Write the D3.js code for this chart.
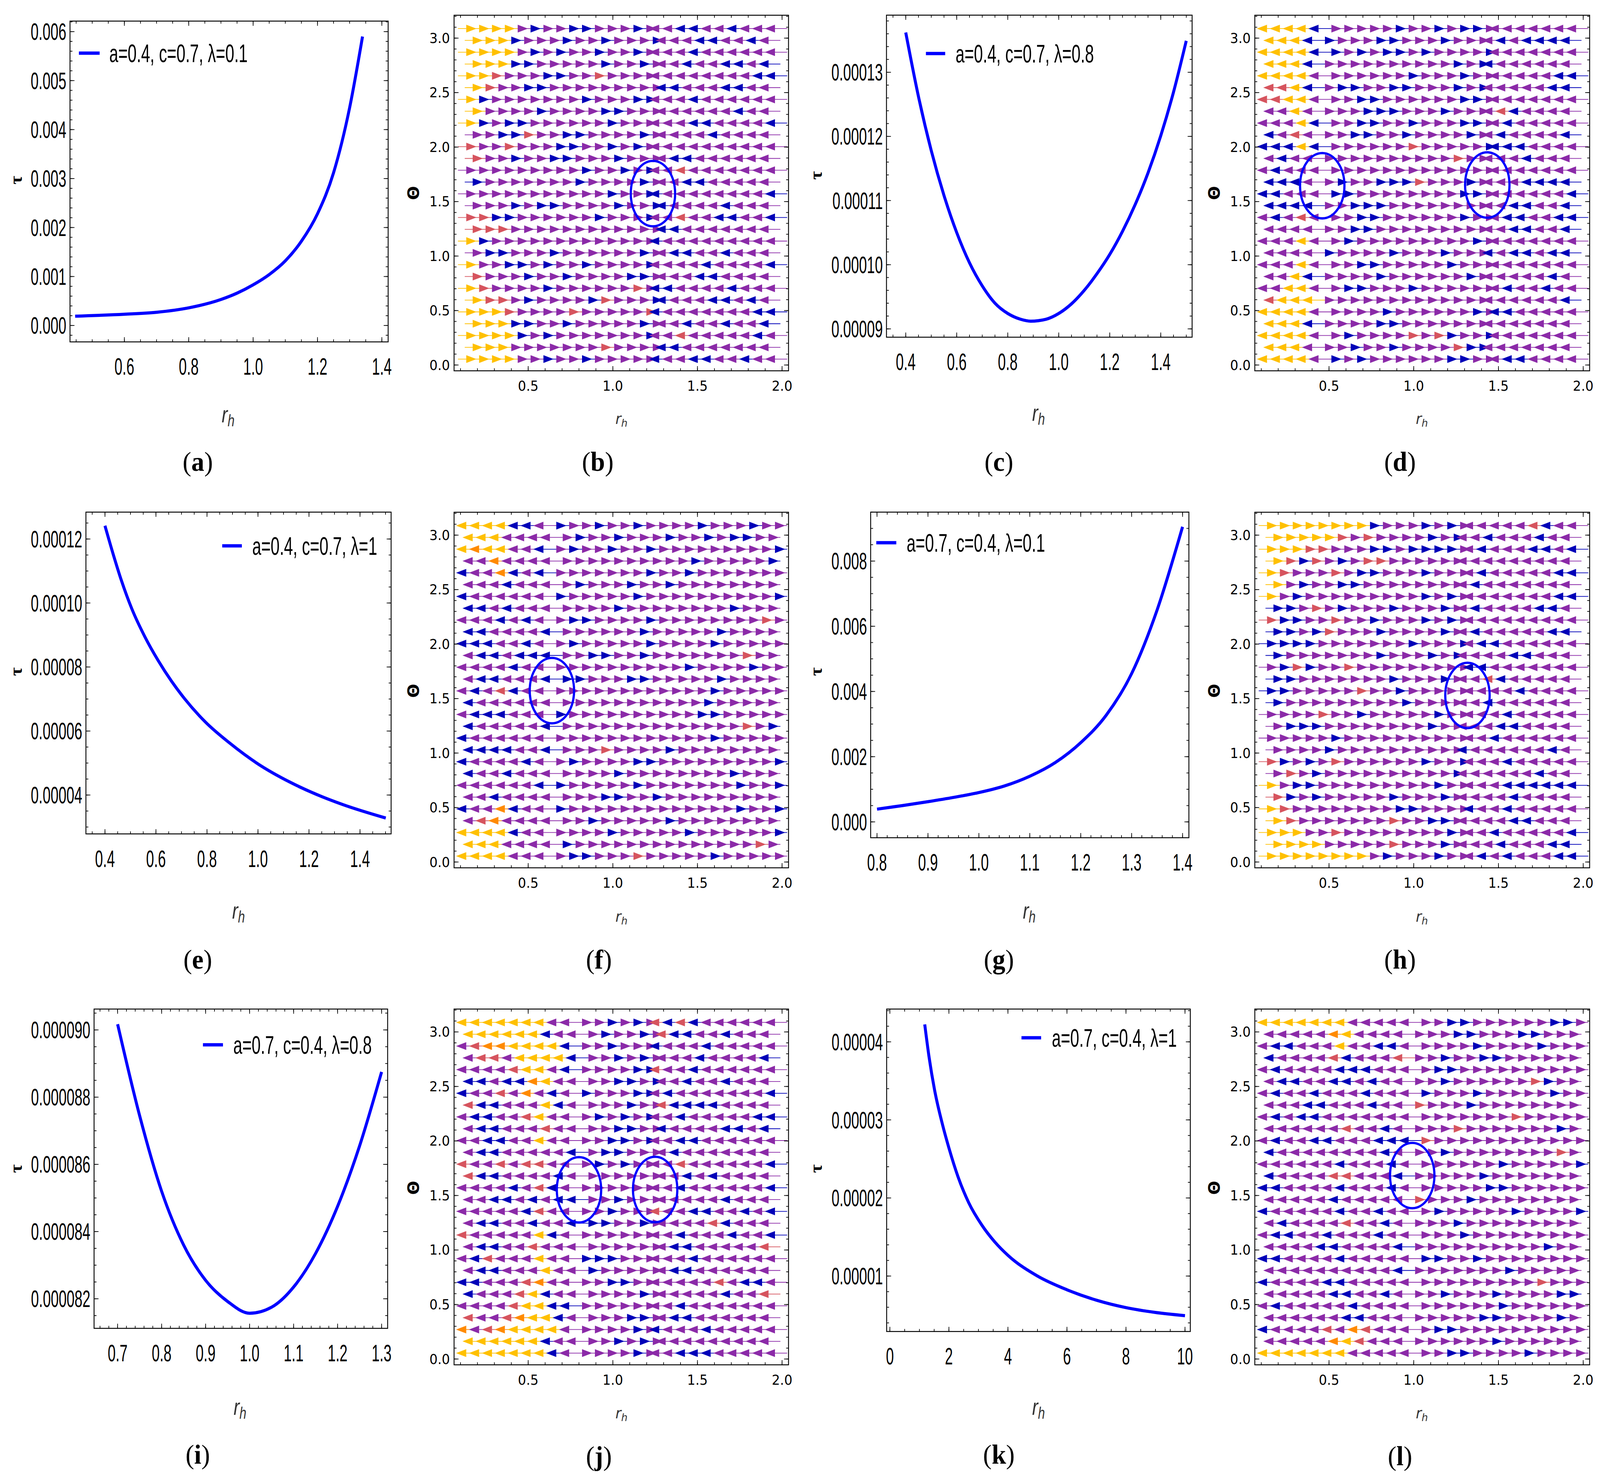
<!DOCTYPE html>
<html><head><meta charset="utf-8">
<script src="https://cdn.jsdelivr.net/npm/d3@7"></script>
<style>html,body{margin:0;padding:0;background:#fff;overflow:hidden}svg{display:block}</style>
</head><body>
<svg id="fig" viewBox="0 0 4320 3775" preserveAspectRatio="none" style="width:100vw;height:100vh"></svg>
<script>
// ===================== DATA =====================
const rA   = [0.447,0.6,0.7,0.8,0.9,0.95,1.0,1.05,1.1,1.15,1.2,1.25,1.3,1.34];
const tauA = [0.00019,0.00023,0.00027,0.00036,0.00053,0.00066,0.00083,0.00104,0.00132,0.00172,0.00228,0.00312,0.00445,0.0059];

const rC   = [0.40,0.45,0.50,0.55,0.60,0.65,0.70,0.75,0.80,0.85,0.89,0.95,1.00,1.05,1.10,1.15,1.20,1.25,1.30,1.35,1.40,1.45,1.50];
const tauC = [1.362e-4,1.262e-4,1.178e-4,1.108e-4,1.050e-4,1.003e-4,0.967e-4,0.940e-4,0.924e-4,0.915e-4,0.912e-4,0.915e-4,0.924e-4,0.939e-4,0.960e-4,0.986e-4,1.016e-4,1.052e-4,1.094e-4,1.143e-4,1.201e-4,1.269e-4,1.349e-4];

const rE   = [0.400,0.433,0.464,0.505,0.557,0.609,0.661,0.712,0.795,0.888,0.997,1.126,1.229,1.333,1.501];
const tauE = [1.2415e-4,1.1506e-4,1.0716e-4,0.9827e-4,0.8938e-4,0.8198e-4,0.7556e-4,0.7012e-4,0.6272e-4,0.5630e-4,0.4988e-4,0.4400e-4,0.4020e-4,0.3700e-4,0.3280e-4];

const rG   = [0.80,0.85,0.90,0.95,1.00,1.05,1.10,1.15,1.20,1.25,1.30,1.35,1.40];
const tauG = [0.00039,0.00050,0.00062,0.00075,0.00090,0.00110,0.00140,0.00182,0.00243,0.00327,0.00455,0.0065,0.00905];

const rI   = [0.70,0.75,0.80,0.85,0.90,0.95,1.00,1.05,1.10,1.15,1.20,1.25,1.30];
const tauI = [90.17e-6,87.45e-6,85.20e-6,83.60e-6,82.55e-6,81.92e-6,81.57e-6,81.75e-6,82.35e-6,83.35e-6,84.75e-6,86.55e-6,88.75e-6];

const rK   = [1.18,1.33,1.51,1.78,2.0,2.31,2.67,3.12,3.57,4.01,5.0,6.0,7.0,8.0,9.0,10.0];
const tauK = [4.224e-5,3.797e-5,3.390e-5,2.943e-5,2.640e-5,2.270e-5,1.940e-5,1.650e-5,1.430e-5,1.262e-5,1.000e-5,0.824e-5,0.690e-5,0.595e-5,0.533e-5,0.492e-5];

const legendTexts = ["a=0.4, c=0.7, λ=0.1","a=0.4, c=0.7, λ=0.8","a=0.4, c=0.7, λ=1","a=0.7, c=0.4, λ=0.1","a=0.7, c=0.4, λ=0.8","a=0.7, c=0.4, λ=1"];
const panelLetters = ["a","b","c","d","e","f","g","h","i","j","k","l"];

const xTicksA = [0.6,0.8,1.0,1.2,1.4],  yTicksA = [0,0.001,0.002,0.003,0.004,0.005,0.006];
const xTicksC = [0.4,0.6,0.8,1.0,1.2,1.4], yTicksC = [0.00009,0.00010,0.00011,0.00012,0.00013];
const xTicksE = [0.4,0.6,0.8,1.0,1.2,1.4], yTicksE = [0.00004,0.00006,0.00008,0.00010,0.00012];
const xTicksG = [0.8,0.9,1.0,1.1,1.2,1.3,1.4], yTicksG = [0,0.002,0.004,0.006,0.008];
const xTicksI = [0.7,0.8,0.9,1.0,1.1,1.2,1.3], yTicksI = [0.000082,0.000084,0.000086,0.000088,0.000090];
const xTicksK = [0,2,4,6,8,10], yTicksK = [0.00001,0.00002,0.00003,0.00004];
const xTicksV = [0.5,1.0,1.5,2.0], yTicksV = [0,0.5,1.0,1.5,2.0,2.5,3.0];

const breaksB = [1.24],       dirStartB = 1,  ringsB = [[1.237,1.573]];
const breaksD = [0.46,1.43],  dirStartD = -1, ringsD = [[0.46,1.645],[1.434,1.652]];
const breaksF = [0.64],       dirStartF = -1, ringsF = [[0.64,1.573]];
const breaksH = [1.31],       dirStartH = 1,  ringsH = [[1.317,1.529]];
const breaksJ = [0.80,1.25],  dirStartJ = -1, ringsJ = [[0.80,1.552],[1.25,1.555]];
const breaksL = [0.99],       dirStartL = -1, ringsL = [[0.991,1.683]];

const colorsB = [
"YYYYPBPPBBPPPBPPPBBPPBPPP","YYYBPPPBPPBPPPBPPPBBPPBP","YYYYPBPBPPBPPBPPPPBPPPPPP","YYYBBPPPPPBPPBPPPBPPBBPB",
"YYRPPPBBPPRPPPPPPPPPPPPBB","YRPPBBPPPPPPPPPBBPPPBBPP","YBPPPPPPPBPPPBBPPPBPPPPPP","YPPPPBPPPPBBPPPPPPPPPBPP",
"YBPBBPPPPPPBPPPPPPBBPPPPB","PPBBRPPBBPPPPBPPPPPBPPPP","RPPRPPPBBPPBPBPPPPPPPPPPP","RPPBPPBBPPPBPPPPBBPPPPPP",
"PPPPPPPPPBPPBPBPPRPPPPPPP","BPPPPPPPBPPPPBPPPBBPPPPP","PPPPPPPPPPPBPPBBPPPPPPPPB","PPPBPBBPPPPBPPBBPPPPBPPP",
"RRBBPPPPPPBPPPBPPRPPBBPPB","RRRPPPPPPPPPPPPBBPPPPPPP","YBPPPPPPPPPPPPPBPPPPPPPPP","PBBPPPBPPPPPPBPPBBPPBPPP",
"YPPBBPBPPBPPPPBPPPPBPPPPB","RPPPBPPBPPPPBBPPPPBBPPPP","YRPPPPBPPPPPPRPBBPPPPBPPP","YRRPBPPPPBRPPPBBPPPBBPBP",
"YYYRPPPPRPPPPPRBPPPPPPPBB","YYYBBPPBPPPPPBPPPBPPBPPB","YYYYBPBPPPPPPPBPPRPPPPPBP","YYYPPPPPPPRPPPPBBPPPPPPP",
"YYYYPPBPPBPPPPPBPPBBPPBPP"];
const colorsD = [
"YYYYBPPPPPBPPBPBBPPPPPPPP","YYYBBPPPBBPPPBPPPPBPBBBB","YYYYBBPBPBBPBPPPPBPPPPPPP","YYYBPPPPPPPPPPBPBBPPPPPP",
"YYYYPPPPPPPBPPPBPPPPPPPBB","RRYBPBBPPBBPPPBPBPPPPPBB","RRYYPPPBBPPPPPPBBPPPPPPPP","PPYPPPPBBBPPPBPPPPRBPPPP",
"PPPYBPPBBPPBPPPBBPPBPPPPP","BPRPPPBBPPBPPPPBPPBPPPPB","BBBYBPPPPPPRPPPPPBBBBPPPP","PBPPPPPPPPPPPPRPPPPPBPPP",
"PBPPPPPPPPPPPPPPPPPPPPPPP","BBBPPBPPBBBRPPPBPPPPBBBB","BBPPPBBPPPPPPPPBBPPPPPPPB","BBBBPPBBBPPPPPPPPPPBBPPB",
"PBPRPPPBBPPPPPPBPPPBBPPBB","PPPPPPBBPPPPPPPPPPPBBPPB","PPPYPPBPPPPPPPPPBPPPPPPPP","PPPPBPPPPBPPPBPPPBPBBPBB",
"PPPYPPPBBPPPPPBPPPPPPPPPP","PPYBPPPPBPPPPPPBPPPPPPBP","PPYYPPBBPPPBPPPPPPPBPPBPP","RYYYPPPPPPPPPPPPPPPPPPPB",
"YYYYPPPPPBPPPPPPBPBBPPPPP","YYYBPPPPBBPPPPPPPPPPPPPP","YYYYPPBPPPPRPRBPPBPPPPPPP","YYYPPPBPPBPPPPRBBPPPPPPP",
"YYYYPBPBPPPPPPBBPPPBBPPPP"];
const colorsF = [
"YYYYBBPBPPBPPBPPPPBPPPBPP","YYYPPPPPBPPBPPPBPPBPBBPP","YOYYPPBPBPPBPPBPPPPPPPPPB","PPOPPPPPPPPPPPPPPBPPPPPB",
"BPPOBPBPPPPPPPBPPBPPPPPPP","PPPBPPPPBPPPBPPBPPPPPPPP","BPPPPPPBPPPPPBPPPPPPPPPPB","BBPBPPPPPPPBPPPPPPPPBPPP",
"PPPBPBPPBBPPPPBPPPPPPPPRP","BBPPPPBPPPPPPBPPPPPBPPPP","BBBPPBPPBPPPPPBPPPPBPPPPP","PBBPBBBPPBBPPBPPPPPPPRPP",
"PPPPBPPPPPPPPPPPPBPPPPBPP","PBBPPPBBBPPPBBPPPPPBPPPP","PBPRBPPPPPPPPPPPPPPBPPPPP","BPPPPPPPPPPPPPPPPPBPPPPP",
"PBBBPPPBPPPPPPPPPPBBPPPPP","BPPPPPBPPPPPPPPPPPPPPRPB","BPPPPPPPPPPPPPPPPPPBPPPPP","BBBBPPBPPPRPPPPBPPPPPPPP",
"BPPPPBPPBPPPPBBPPPPPPPPPB","BPPBPPPPPPPBPPPPPPPPBPPP","PPPPPPBBPPPPPBPPPPPPPBPPB","PPBPPPPPPPBBPPBPPPPPPPPP",
"BPPOBPPBPPPPPPPPPPPPPBPPB","PROPPPPPPBPPPPPBPPPPPPPP","YYYYBPPPPPPBPPPPPBPPPPPPB","YYYPPPPBPPPPPPPPPPPPPPRP",
"YYYYPPPPBBPPPRPPPPPBPPPPP"];
const colorsH = [
"YYYYYYYYBPPPBPBPPPPPPRBPP","YYYYYRPRPPPPBPBPPBPPPBPP","YYYRRPPPBBPBBBBPPBPPPBBPB","YRBRPBPRRPPPPPPPPPPPPPPP",
"YRPPPRPBBPPPBPPPPBPPPPPBB","YPBPPBBPPPPPPPPPBPPPPPPP","YPBPPPPPPPPPBPBPPPPPPPPBB","BBPRPBPPPBPPPBPPBPPPPBBP",
"RBBPPRPPBPPPBPBPPPPPPPPPP","BBPBRPPPBPPPPBPPBPPPPPBB","BBBBPPPPPPPBPPPBPBBPPPPPP","BPPPPPPPBPPPBPBPPPPBBPPP",
"PBRBPPRPPPPPPPPPBBPPPPPPP","BBPPPPPPPBPPPBPPPRBPPPPP","BBPPPPPRPPBPPPPPPPPPBPPPP","BPPPPPPPPPBPPPPPPBPPPPPP",
"PPPPRPPBPPPPPBPPPPPBPPPPP","PBBBPPPPPPPPBPPPPPBBPPPP","PPPPPBPPPPPPPPPPPPBPPPPPP","PPPPBPPPPPPPPPPBPPPPPPBP",
"RBPBPRPPPPPPBPPBPPPBPPPPP","PRPBPPPPPPPPPPBPPPPPPBPP","YPBBPPPPPPPPPBPPPPPBBBBBB","RBPBPPPPPBPPPBPPPPPBPPPP",
"YRPPPPPPPPBBPPPPBPPBPPPPP","YRPPPPPPPRPPBBPPPPPBBPPP","YYYPPRPPPPPPPPBPPPBPPPPPB","YYYYPPPPPRPPPBPPPPBPPPBB",
"YYYYYYYYPBPPPBPPPBPBPPPBB"];
const colorsJ = [
"YYYYYYYPPPPBPBPRBRBPPPPPP","YYYYYYBPPPBPPBPRBBPPBPPP","PROOYYYYBPPBPPPBPPPBPPPPP","PRRPYYYYBPPBPBPPPPBPPPPB",
"PPPPRYYPBPPPPBBRPPBPPPPPP","BBPBBOYPPPPBBPBPPBPPBPPP","BPPRPOPBPBPPPBBPBPPPPPPPB","RBBPPPYBPPPPBPPRBBBBPPPP",
"PBBPPRYPPPBPBPBPPBPPPPPBB","PBBPPPRPPPPBBPPBPPPPBBPB","PPBBPPYPPPPBBPBPPBBPPPPPP","PBBPPPPPBPBBPPPPBPPPPPPP",
"RPPRPRRPPPBPBPPPPRPPPPPPB","RBBPPPPBPPPPPPPPPBPBPPPP","PPPPBPRBPPPPPPPPPBPPPPPPB","PPBBPBPBBPPBPPPPPPPPBPPP",
"PPPPPBRPPPPBPPPRPPBBPPBPB","PBBPPBPPBBBPPBPPPPPRBPPP","RPPPPPYBPPPPPPPPPBPPPBPPB","PBBPPRPPPPPPPPPPBBPPPPPR",
"PBRPPPYPPBBBPPPPPPBPPPPPP","PBBPPPYPPBPPPPPPBBPPPPPP","BBPPPROPPPPBBPPPPPPPRPBBP","BPPPRYBPPPPPPBPPPPPPBPPR",
"PPPPRYYBBPPPPPPPPBPPPPPPP","RPPROYYBPPPPBBPPBBPPPPPP","OPROYYYYPPPPPBPBPPPBPPPPP","YYYYYYBPPPPBPBPPPPPPPPPP",
"YYYYYYYBPPPPPBPPPBBBPPPPP"];
const colorsL = [
"YYYYYYYPPPPPPPBBPPPPPPBBP","PPPPPOYPPPPPPPBBPPPBBPPP","PBBPPPYPPBBPPPPPBPPPPBPPP","BPPPPRBPPPRPPBPPBBPPPPPP",
"PBPPPPBBBPPPPBBPPPPPPPPPP","PBBPPBBPBPPPPBPPPPPPRBPP","PBPPBPPPBPPPBPPPBPPPPPBPP","PPPBBPPPBPPRPPPBPPPPPPPP",
"PBPBBPPPPPPPPPPPPPPRPPPPP","PPPPPPRPPBPPPPRPPPPPPPBP","PBPPBBPPPBBBRPPPPPPPPPPPP","BPPPPPPPPBPPPBPPPPPPPPRP",
"PPPPPPBPPPBPPPPPPPBPPPPPB","BPPPPRRPPPBPPPPPBPPPPPPP","BBPPPPBPPPBPPPPPPBBPPPPPP","PPPPPBPPPPPRPPPBPPPPPPPP",
"BPPPPPBPPBPPPBPPPPPBPPPPB","PBPPPPRPPBPPPPBPPPPPPPPP","PBBPPBPPPBPPPPPBPPPPPPPPP","PPPPBBPPPPBPPPPPPPPPPBPP",
"BBPPPPBPPPPPBBPPBPPPPPPPP","PPPPPPPPPPBPPPPPPPBPPPPP","BPPPPBBPPPPPPPPPPPPPPRPPP","PPPPPBBPPBPPPBPPPBPPPPBB",
"PBPPPPPBPPPPPPPPPPBPPPPPP","PPPPPPBBPPPPPPPPBBPPPPBP","BPPPPRPORPPPPBBPPPPPPPPPP","PPPPPOYRPPPPPPPPPBPPPPPP",
"YYYYYYYPPPPPPPBBPPPPBPPPP"];

// ===================== LAYOUT / STYLE =====================
const svg = d3.select('#fig');
svg.append('rect').attr('width',4320).attr('height',3775).attr('fill','#fff');
const COND = '"Liberation Sans", Arial, sans-serif';
const colorMap = {Y:'#ffc000', O:'#ff8a00', R:'#d6545e', P:'#8b2aa8', B:'#0000b8'};

function condText(g, x, y, str, size, sx, anchor){
  return g.append('text')
    .attr('transform', `translate(${x},${y}) scale(${sx},1)`)
    .attr('text-anchor', anchor).attr('dominant-baseline','central')
    .attr('font-family', COND).attr('font-size', size).attr('fill','#000').text(str);
}
function rangeStep(d0, d1, step){
  const out=[]; const s=Math.ceil(d0/step-1e-9);
  for(let k=s; k*step<=d1+1e-12; k++) out.push(+(k*step).toPrecision(12));
  return out;
}
function drawFrame(g, fr, xs, ys, xMaj, yMaj, xMin, yMin){
  const [x0,y0,x1,y1]=fr;
  const tk = g.append('g').attr('stroke','#000').attr('stroke-width',1.8);
  const Lmaj=12, Lmin=6.5;
  rangeStep(xs.domain()[0], xs.domain()[1], xMin).forEach(v=>{
    const x=xs(v); tk.append('line').attr('x1',x).attr('x2',x).attr('y1',y1).attr('y2',y1-Lmin);
    tk.append('line').attr('x1',x).attr('x2',x).attr('y1',y0).attr('y2',y0+Lmin);});
  rangeStep(ys.domain()[0], ys.domain()[1], yMin).forEach(v=>{
    const y=ys(v); tk.append('line').attr('x1',x0).attr('x2',x0+Lmin).attr('y1',y).attr('y2',y);
    tk.append('line').attr('x1',x1).attr('x2',x1-Lmin).attr('y1',y).attr('y2',y);});
  xMaj.forEach(v=>{const x=xs(v); tk.append('line').attr('x1',x).attr('x2',x).attr('y1',y1).attr('y2',y1-Lmaj);
    tk.append('line').attr('x1',x).attr('x2',x).attr('y1',y0).attr('y2',y0+Lmaj);});
  yMaj.forEach(v=>{const y=ys(v); tk.append('line').attr('x1',x0).attr('x2',x0+Lmaj).attr('y1',y).attr('y2',y);
    tk.append('line').attr('x1',x1).attr('x2',x1-Lmaj).attr('y1',y).attr('y2',y);});
  g.append('rect').attr('x',x0).attr('y',y0).attr('width',x1-x0).attr('height',y1-y0)
    .attr('fill','none').attr('stroke','#000').attr('stroke-width',2.4);
}
function panelLabel(x, y, letter){
  const t = svg.append('text').attr('x',x).attr('y',y).attr('text-anchor','middle').attr('dominant-baseline','central')
    .attr('font-family','"Liberation Serif","Times New Roman",serif').attr('font-size',70).attr('fill','#000');
  t.append('tspan').text('(');
  t.append('tspan').attr('font-weight','bold').text(letter);
  t.append('tspan').text(')');
}

// ---------- curve panels ----------
const curvePanels = [
 {r:rA,t:tauA,fr:[189,54,1048,875],  xd:[0.431,1.4196], yd:[-0.000335,0.006215], xt:xTicksA,yt:yTicksA,xf:'.1f',yf:'.3f',xm:0.05,ym:0.0002, leg:[213,269,136,295], lab:[534,1181], tau:[43,461], rh:[616,1060]},
 {r:rC,t:tauC,fr:[2393.5,38.8,3218.7,863], xd:[0.3245,1.523], yd:[0.0000887,0.0001389], xt:xTicksC,yt:yTicksC,xf:'.1f',yf:'.5f',xm:0.05,ym:2e-6, leg:[2500,2552,137,2580], lab:[2697,1181], tau:[2203,449], rh:[2804,1056]},
 {r:rE,t:tauE,fr:[232,1310.7,1056,2134.2], xd:[0.3254,1.522], yd:[0.00002785,0.0001284], xt:xTicksE,yt:yTicksE,xf:'.1f',yf:'.5f',xm:0.05,ym:5e-6, leg:[600,653,1397,681], lab:[534,2455], tau:[43,1719], rh:[644,2330]},
 {r:rG,t:tauG,fr:[2350.8,1310.7,3210,2144], xd:[0.7875,1.4124], yd:[-0.000486,0.0095], xt:xTicksG,yt:yTicksG,xf:'.1f',yf:'.3f',xm:0.02,ym:0.0005, leg:[2366,2420,1389,2448], lab:[2697,2455], tau:[2203,1719], rh:[2779,2330]},
 {r:rI,t:tauI,fr:[254,2582.5,1046.6,3399.7], xd:[0.6465,1.3137], yd:[0.00008112,0.00009062], xt:xTicksI,yt:yTicksI,xf:'.1f',yf:'.6f',xm:0.02,ym:5e-7, leg:[548,602,2674,630], lab:[534,3722], tau:[43,2991], rh:[648,3600]},
 {r:rK,t:tauK,fr:[2394,2582.5,3213.8,3407.8], xd:[-0.11,10.18], yd:[0.00000289,0.0000442], xt:xTicksK,yt:yTicksK,xf:'d',yf:'.5f',xm:0.5,ym:2e-6, leg:[2758,2811,2656,2840], lab:[2697,3722], tau:[2203,2991], rh:[2804,3600]}
];
const curveLetters = ['a','c','e','g','i','k'];

curvePanels.forEach((p,pi)=>{
  const g = svg.append('g');
  const [x0,y0,x1,y1]=p.fr;
  const xs=d3.scaleLinear().domain(p.xd).range([x0,x1]);
  const ys=d3.scaleLinear().domain(p.yd).range([y1,y0]);
  const cid='clipC'+pi;
  g.append('clipPath').attr('id',cid).append('rect').attr('x',x0).attr('y',y0).attr('width',x1-x0).attr('height',y1-y0);
  const pts = p.r.map((v,i)=>[v,p.t[i]]);
  const line=d3.line().x(d=>xs(d[0])).y(d=>ys(d[1])).curve(d3.curveMonotoneX);
  g.append('path').attr('d',line(pts)).attr('clip-path',`url(#${cid})`)
    .attr('fill','none').attr('stroke','#0000ff').attr('stroke-width',8).attr('stroke-linecap','butt');
  drawFrame(g, p.fr, xs, ys, p.xt, p.yt, p.xm, p.ym);
  const fx=d3.format(p.xf), fy=d3.format(p.yf);
  p.xt.forEach(v=>condText(g, xs(v), y1+63, fx(v), 62, 0.62, 'middle'));
  p.yt.forEach(v=>condText(g, x0-10, ys(v), fy(v), 62, 0.62, 'end'));
  const [lx0,lx1,ly,tx]=p.leg;
  g.append('line').attr('x1',lx0).attr('x2',lx1).attr('y1',ly).attr('y2',ly).attr('stroke','#0000ff').attr('stroke-width',8.5);
  condText(g, tx, ly, legendTexts[pi], 64, 0.68, 'start');
  g.append('text').attr('transform',`translate(${p.tau[0]},${p.tau[1]}) rotate(-90)`).attr('text-anchor','middle')
    .attr('dominant-baseline','central').attr('font-family','"Liberation Serif",serif').attr('font-weight','bold')
    .attr('font-size',48).text('τ');
  const rt = g.append('text').attr('transform',`translate(${p.rh[0]},${p.rh[1]}) scale(0.8,1)`).attr('text-anchor','middle')
    .attr('dominant-baseline','central').attr('font-family',COND).attr('font-style','italic').attr('font-size',60).attr('fill','#333');
  rt.append('tspan').text('r');
  rt.append('tspan').attr('font-size',42).attr('dy',16).text('h');
  panelLabel(p.lab[0], p.lab[1], curveLetters[pi]);
});

// ---------- vector-field panels ----------
const vecPanels = [
 {fr:[1226,39,2129,949],      br:breaksB, d0:dirStartB, rings:ringsB, cols:colorsB, lab:[1614,1181], th:[1116,494],  rh:[1678,1072]},
 {fr:[3388,39,4292,949],      br:breaksD, d0:dirStartD, rings:ringsD, cols:colorsD, lab:[3780,1181], th:[3278,494],  rh:[3839,1072]},
 {fr:[1226,1311,2129,2221],   br:breaksF, d0:dirStartF, rings:ringsF, cols:colorsF, lab:[1617,2455], th:[1116,1768], rh:[1678,2346]},
 {fr:[3388,1311,4292,2221],   br:breaksH, d0:dirStartH, rings:ringsH, cols:colorsH, lab:[3780,2455], th:[3278,1768], rh:[3839,2346]},
 {fr:[1226,2582.5,2129,3493], br:breaksJ, d0:dirStartJ, rings:ringsJ, cols:colorsJ, lab:[1617,3726], th:[1116,3040], rh:[1678,3617]},
 {fr:[3388,2582.5,4292,3493], br:breaksL, d0:dirStartL, rings:ringsL, cols:colorsL, lab:[3780,3726], th:[3278,3040], rh:[3839,3617]}
];
const vecLetters=['b','d','f','h','j','l'];
const nRows = 29, colStep = 0.076, firstEven = 0.134, firstOdd = 0.172;
const lineSpan = {even:[0.085,2.03], odd:[0.125,1.99]};
const ARR_L = 27.5, ARR_H = 10;

vecPanels.forEach((p,pi)=>{
  const g=svg.append('g');
  const [x0,y0,x1,y1]=p.fr;
  const xs=d3.scaleLinear().domain([0.062,2.038]).range([x0,x1]);
  const ys=d3.scaleLinear().domain([-0.053,3.21]).range([y1,y0]);
  const cid='clipV'+pi;
  g.append('clipPath').attr('id',cid).append('rect').attr('x',x0).attr('y',y0).attr('width',x1-x0).attr('height',y1-y0);
  const body=g.append('g').attr('clip-path',`url(#${cid})`);
  const lines=body.append('g').attr('stroke-width',1.8);
  const arrows=body.append('g');
  p.cols.forEach((row,i)=>{
    const th = Math.PI*(nRows-0.5-i)/nRows;
    const y = ys(th);
    const even = i%2===0;
    const start = even?firstEven:firstOdd;
    const span = even?lineSpan.even:lineSpan.odd;
    const anchors = Array.from(row).map((c,k)=>start+k*colStep);
    const pts=[span[0]].concat(anchors).concat([span[1]]);
    for(let k=0;k<pts.length-1;k++){
      const ci = Math.min(Math.max(k-1,0), row.length-1);
      lines.append('line').attr('x1',xs(pts[k])).attr('x2',xs(pts[k+1])).attr('y1',y).attr('y2',y)
        .attr('stroke',colorMap[row[ci]]);
    }
    anchors.forEach((r,k)=>{
      const nb = p.br.filter(b=>b<r).length;
      const dir = p.d0*(nb%2===0?1:-1);
      const xb = xs(r), xt = xb+dir*ARR_L;
      arrows.append('path').attr('d',`M${xb},${y-ARR_H}L${xt},${y}L${xb},${y+ARR_H}Z`)
        .attr('fill',colorMap[row[k]]);
    });
  });
  p.rings.forEach(c=>{
    body.append('ellipse').attr('cx',xs(c[0])).attr('cy',ys(c[1]))
      .attr('rx',xs(c[0]+0.131)-xs(c[0])).attr('ry',ys(c[1])-ys(c[1]+0.30))
      .attr('fill','none').attr('stroke','#0000ff').attr('stroke-width',6);
  });
  drawFrame(g, p.fr, xs, ys, xTicksV, yTicksV, 0.1, 0.1);
  const f1=d3.format('.1f');
  xTicksV.forEach(v=>g.append('text').attr('x',xs(v)).attr('y',y1+39).attr('text-anchor','middle').attr('dominant-baseline','central')
    .attr('font-family','"DejaVu Sans",sans-serif').attr('font-size',35).text(f1(v)));
  yTicksV.forEach(v=>g.append('text').attr('x',x0-11).attr('y',ys(v)).attr('text-anchor','end').attr('dominant-baseline','central')
    .attr('font-family','"DejaVu Sans",sans-serif').attr('font-size',35).text(f1(v)));
  g.append('text').attr('transform',`translate(${p.th[0]},${p.th[1]}) rotate(-90)`).attr('text-anchor','middle')
    .attr('dominant-baseline','central').attr('font-family','"DejaVu Sans",sans-serif').attr('font-weight','bold')
    .attr('font-size',42).text('Θ');
  const rt=g.append('text').attr('x',p.rh[0]).attr('y',p.rh[1]).attr('text-anchor','middle').attr('dominant-baseline','central')
    .attr('font-family','"DejaVu Sans",sans-serif').attr('font-style','italic').attr('font-size',38).attr('fill','#333');
  rt.append('tspan').text('r');
  rt.append('tspan').attr('font-size',27).attr('dy',11).text('h');
  panelLabel(p.lab[0], p.lab[1], vecLetters[pi]);
});
</script>
</body></html>
